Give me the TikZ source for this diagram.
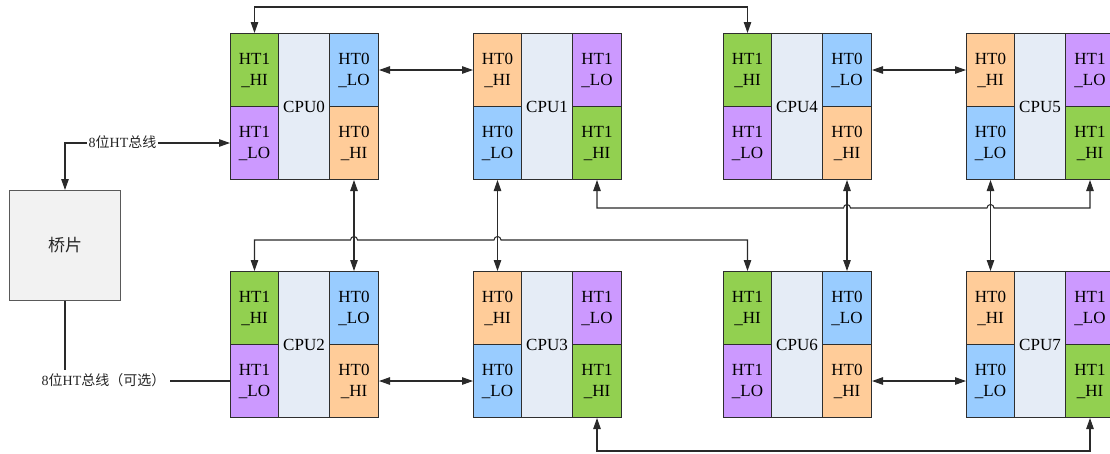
\documentclass[tikz,border=0pt]{standalone}
\usepackage{fontspec}
\setmainfont{Liberation Serif}
\newfontfamily\cjk{Noto Sans CJK SC}
\usetikzlibrary{arrows.meta,calc}
\definecolor{cgreen}{HTML}{92D050}
\definecolor{cpurple}{HTML}{CC99FF}
\definecolor{cblue}{HTML}{99CCFF}
\definecolor{corange}{HTML}{FFCC99}
\definecolor{cmid}{HTML}{E5ECF6}
\definecolor{cellborder}{HTML}{2E2E2E}
\definecolor{lineclr}{HTML}{2A2A2A}
\definecolor{bridgefill}{HTML}{F2F2F2}
\tikzset{
  >={Triangle[length=11pt,width=7.5pt]},
  htcell/.style={draw=cellborder, line width=1pt, minimum height=73pt, inner sep=0pt,
    anchor=north west, align=center, font=\fontsize{17}{21}\selectfont},
  midcell/.style={draw=cellborder, line width=1pt, fill=cmid, minimum width=51pt,
    minimum height=146pt, inner sep=0pt, anchor=north west, font=\fontsize{17}{21}\selectfont},
  conn/.style={draw=lineclr, line width=1.05pt},
  buslabel/.style={fill=white, font=\fontsize{14}{16}\selectfont, text=black!85},
  bridgebox/.style={draw=black!65, line width=1pt, fill=bridgefill, minimum width=111pt,
    minimum height=110pt, inner sep=0pt, font=\cjk\fontsize{17}{20}\selectfont, text=black!85}
}
% layout A: HT1_HI / HT1_LO left, HT0_LO / HT0_HI right
\newcommand\cpuLayoutA[4]{%
  \node[htcell, fill=cgreen, minimum width=48pt] (#1tl) at (#2,#3) {HT1\\\_HI};
  \node[htcell, fill=cpurple, minimum width=48pt] (#1bl) at (#2,#3+73) {HT1\\\_LO};
  \node[midcell] (#1m) at (#2+48,#3) {CPU#4};
  \node[htcell, fill=cblue, minimum width=49pt] (#1tr) at (#2+99,#3) {HT0\\\_LO};
  \node[htcell, fill=corange, minimum width=49pt] (#1br) at (#2+99,#3+73) {HT0\\\_HI};
}
% layout B: HT0_HI / HT0_LO left, HT1_LO / HT1_HI right
\newcommand\cpuLayoutB[4]{%
  \node[htcell, fill=corange, minimum width=48pt] (#1tl) at (#2,#3) {HT0\\\_HI};
  \node[htcell, fill=cblue, minimum width=48pt] (#1bl) at (#2,#3+73) {HT0\\\_LO};
  \node[midcell] (#1m) at (#2+48,#3) {CPU#4};
  \node[htcell, fill=cpurple, minimum width=49pt] (#1tr) at (#2+99,#3) {HT1\\\_LO};
  \node[htcell, fill=cgreen, minimum width=49pt] (#1br) at (#2+99,#3+73) {HT1\\\_HI};
}
\begin{document}
\begin{tikzpicture}[x=1pt,y=-1pt]
\useasboundingbox (0,0) rectangle (1110,453);
\clip (0,0) rectangle (1110,453);

\cpuLayoutA{c0}{230}{33}{0}
\cpuLayoutB{c1}{473}{33}{1}
\cpuLayoutA{c4}{723}{33}{4}
\cpuLayoutB{c5}{966}{33}{5}
\cpuLayoutA{c2}{230}{271}{2}
\cpuLayoutB{c3}{473}{271}{3}
\cpuLayoutA{c6}{723}{271}{6}
\cpuLayoutB{c7}{966}{271}{7}

\node[bridgebox, anchor=north west] (bridge) at (9,190) {桥片};

\coordinate (y7) at (0,7);
\coordinate (y208) at (0,208);
\coordinate (y240) at (0,240);
\coordinate (y451) at (0,451);

% top loop CPU0 - CPU4
\draw[conn,<->] (c0tl.north) |- (c4tl.north |- y7) -- (c4tl.north);
% horizontal HT0 links
\draw[conn,<->] (c0tr.east) -- (c1tl.west);
\draw[conn,<->] (c4tr.east) -- (c5tl.west);
\draw[conn,<->] (c2br.east) -- (c3bl.west);
\draw[conn,<->] (c6br.east) -- (c7bl.west);
% vertical HT0 links
\draw[conn,<->] (c0br.south) -- (c2tr.north);
\draw[conn,<->] (c1bl.south) -- (c3tl.north);
\draw[conn,<->] (c4br.south) -- (c6tr.north);
\draw[conn,<->] (c5bl.south) -- (c7tl.north);
% CPU2 - CPU6 line with hops
\draw[conn,<->] (c2tl.north) |- ($(c2tr.north |- y240)+(-3.5,0)$)
  arc[start angle=180, end angle=0, radius=3.5pt]
  -- ($(c3tl.north |- y240)+(-3.5,0)$)
  arc[start angle=180, end angle=0, radius=3.5pt]
  -| (c6tl.north);
% CPU1 - CPU5 line with hops
\draw[conn,<->] (c1br.south) |- ($(c4br.south |- y208)+(-3.5,0)$)
  arc[start angle=180, end angle=0, radius=3.5pt]
  -- ($(c5bl.south |- y208)+(-3.5,0)$)
  arc[start angle=180, end angle=0, radius=3.5pt]
  -| (c5br.south);
% CPU3 - CPU7 bottom line
\draw[conn,<->] (c3br.south) |- (c7br.south |- y451) -- (c7br.south);

% bridge links
\draw[conn,<->] (bridge.north) |- (c0bl.west);
\node[buslabel, inner xsep=1.5pt, inner ysep=2pt] (lab1) at (122.5,142.5) {8{\cjk 位}HT{\cjk 总线}};
\draw[conn] (bridge.south) |- (c2bl.west);
\node[buslabel, inner xsep=5pt, inner ysep=3.5pt] (lab2) at (103.5,380.5) {8{\cjk 位}HT{\cjk 总线（可选）}};
\end{tikzpicture}
\end{document}
